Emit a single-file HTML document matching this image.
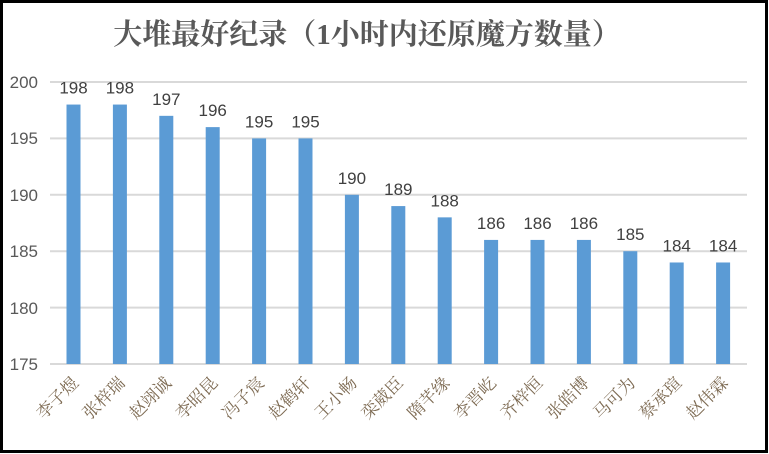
<!DOCTYPE html>
<html><head><meta charset="utf-8"><style>
html,body{margin:0;padding:0;background:#fff}
svg{display:block}
</style></head><body>
<svg width="769" height="454" xmlns="http://www.w3.org/2000/svg">
<rect x="1.5" y="1.5" width="765" height="450" fill="#fff" stroke="#000" stroke-width="3"/>
<text x="367" y="44" text-anchor="middle" font-family="'Liberation Serif','Noto Serif CJK SC',serif" font-size="29" font-weight="bold" fill="#595959">大堆最好纪录（1小时内还原魔方数量）</text>
<g stroke="#d9d9d9" stroke-width="2">
<line x1="50" x2="747" y1="82" y2="82"/>
<line x1="50" x2="747" y1="138.4" y2="138.4"/>
<line x1="50" x2="747" y1="194.8" y2="194.8"/>
<line x1="50" x2="747" y1="251.2" y2="251.2"/>
<line x1="50" x2="747" y1="307.6" y2="307.6"/>
<line x1="50" x2="747" y1="364" y2="364"/>
</g>
<g font-family="'Liberation Sans',sans-serif" font-size="17" fill="#595959" text-anchor="end">
<text x="38" y="88">200</text><text x="38" y="144">195</text><text x="38" y="201">190</text>
<text x="38" y="257">185</text><text x="38" y="314">180</text><text x="38" y="370">175</text>
</g>
<g fill="#5b9bd5">
<rect x="66.5" y="104.56" width="14" height="259.44"/>
<rect x="112.9" y="104.56" width="14" height="259.44"/>
<rect x="159.3" y="115.84" width="14" height="248.16"/>
<rect x="205.7" y="127.12" width="14" height="236.88"/>
<rect x="252.1" y="138.4" width="14" height="225.6"/>
<rect x="298.5" y="138.4" width="14" height="225.6"/>
<rect x="344.9" y="194.8" width="14" height="169.2"/>
<rect x="391.3" y="206.08" width="14" height="157.92"/>
<rect x="437.7" y="217.36" width="14" height="146.64"/>
<rect x="484.1" y="239.92" width="14" height="124.08"/>
<rect x="530.5" y="239.92" width="14" height="124.08"/>
<rect x="576.9" y="239.92" width="14" height="124.08"/>
<rect x="623.3" y="251.2" width="14" height="112.8"/>
<rect x="669.7" y="262.48" width="14" height="101.52"/>
<rect x="716.1" y="262.48" width="14" height="101.52"/>
</g>
<g font-family="'Liberation Sans',sans-serif" font-size="17" fill="#404040" text-anchor="middle">
<text x="73.5" y="93.5">198</text>
<text x="119.9" y="93.5">198</text>
<text x="166.3" y="104.8">197</text>
<text x="212.7" y="116.1">196</text>
<text x="259.1" y="127.4">195</text>
<text x="305.5" y="127.4">195</text>
<text x="351.9" y="183.8">190</text>
<text x="398.3" y="195.1">189</text>
<text x="444.7" y="206.4">188</text>
<text x="491.1" y="228.9">186</text>
<text x="537.5" y="228.9">186</text>
<text x="583.9" y="228.9">186</text>
<text x="630.3" y="240.2">185</text>
<text x="676.7" y="251.5">184</text>
<text x="723.1" y="251.5">184</text>
</g>
<g font-family="'Liberation Serif','Noto Serif CJK SC',serif" font-size="17" fill="#7d6a52" text-anchor="end">
<text x="79.5" y="384" transform="rotate(-45 79.5 384)">李子煜</text>
<text x="125.9" y="384" transform="rotate(-45 125.9 384)">张梓瑞</text>
<text x="172.3" y="384" transform="rotate(-45 172.3 384)">赵翊诚</text>
<text x="218.7" y="384" transform="rotate(-45 218.7 384)">李昭昆</text>
<text x="265.1" y="384" transform="rotate(-45 265.1 384)">冯子宸</text>
<text x="311.5" y="384" transform="rotate(-45 311.5 384)">赵鹤轩</text>
<text x="357.9" y="384" transform="rotate(-45 357.9 384)">王小畅</text>
<text x="404.3" y="384" transform="rotate(-45 404.3 384)">栾葳臣</text>
<text x="450.7" y="384" transform="rotate(-45 450.7 384)">隋芊缘</text>
<text x="497.1" y="384" transform="rotate(-45 497.1 384)">李晋屹</text>
<text x="543.5" y="384" transform="rotate(-45 543.5 384)">齐梓恒</text>
<text x="589.9" y="384" transform="rotate(-45 589.9 384)">张皓博</text>
<text x="636.3" y="384" transform="rotate(-45 636.3 384)">马可为</text>
<text x="682.7" y="384" transform="rotate(-45 682.7 384)">蔡承瑄</text>
<text x="729.1" y="384" transform="rotate(-45 729.1 384)">赵伟霖</text>
</g>
</svg>
</body></html>
